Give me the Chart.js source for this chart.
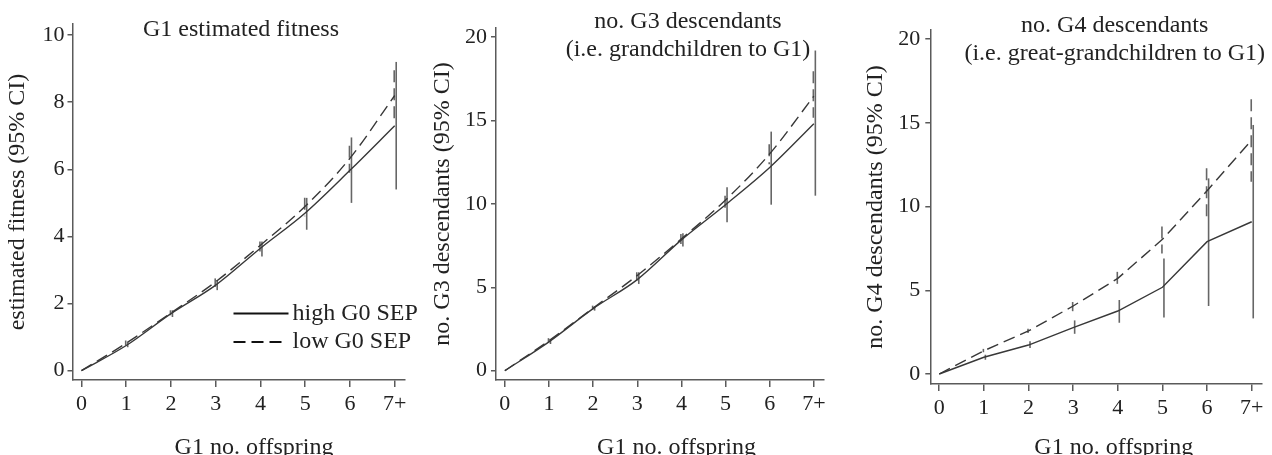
<!DOCTYPE html>
<html>
<head>
<meta charset="utf-8">
<script src="https://cdn.jsdelivr.net/npm/chart.js@4.4.1/dist/chart.umd.min.js"></script>
<style>
  html, body { margin: 0; padding: 0; background: #fff; overflow: hidden; }
  .panel { position: absolute; top: 0; width: 424px; height: 455px; }
</style>
</head>
<body>
<canvas id="p1" class="panel" width="424" height="455" style="left:0"></canvas>
<canvas id="p2" class="panel" width="424" height="455" style="left:424px"></canvas>
<canvas id="p3" class="panel" width="424" height="455" style="left:848px"></canvas>
<script>
// G1 no. offspring (7 = "7+")
const offspring = [0, 1, 2, 3, 4, 5, 6, 7];
const xTickLabels = ['0', '1', '2', '3', '4', '5', '6', '7+'];

// Panel 1: G1 estimated fitness
const fitHigh = [0, 0.75, 1.7, 2.55, 3.65, 4.7, 5.97, 7.3];
const fitHighLo = [0, 0.7, 1.6, 2.4, 3.4, 4.2, 5.0, 5.4];
const fitHighHi = [0, 0.85, 1.8, 2.7, 3.85, 5.15, 6.95, 9.2];
const fitLow = [0, 0.82, 1.72, 2.65, 3.74, 4.9, 6.33, 8.2];
const fitLowLo = [0, 0.75, 1.65, 2.5, 3.55, 4.6, 5.9, 7.5];
const fitLowHi = [0, 0.9, 1.8, 2.75, 3.85, 5.15, 6.7, 8.95];
const fitTicks = [0, 2, 4, 6, 8, 10];

// Panel 2: no. G3 descendants
const g3High = [0, 1.73, 3.72, 5.46, 7.84, 9.95, 12.18, 14.8];
const g3HighLo = [0, 1.6, 3.6, 5.2, 7.44, 8.9, 9.95, 10.49];
const g3HighHi = [0, 1.9, 3.85, 5.9, 8.24, 10.99, 14.33, 19.19];
const g3Low = [0, 1.8, 3.75, 5.71, 7.9, 10.23, 13.0, 16.46];
const g3LowLo = [0, 1.7, 3.65, 5.4, 7.6, 9.59, 12.38, 15.16];
const g3LowHi = [0, 1.95, 3.9, 5.9, 8.2, 10.49, 13.58, 17.95];

// Panel 3: no. G4 descendants
const g4High = [0, 1.0, 1.73, 2.77, 3.76, 5.18, 7.9, 9.09];
const g4HighLo = [0, 0.85, 1.55, 2.4, 3.06, 3.38, 4.06, 3.32];
const g4HighHi = [0, 1.15, 1.95, 3.2, 4.42, 6.9, 11.68, 14.87];
const g4Low = [0, 1.39, 2.57, 4.06, 5.71, 8.04, 10.94, 13.97];
const g4LowLo = [0, 1.3, 2.45, 3.75, 5.2, 7.2, 9.15, 11.48];
const g4LowHi = [0, 1.5, 2.7, 4.3, 6.1, 8.8, 12.28, 16.4];
const descTicks = [0, 5, 10, 15, 20];

const seriesNames = ['high G0 SEP', 'low G0 SEP'];

const FONT = '"Liberation Serif", "Times New Roman", serif';
const TEXT = '#222';
const AXIS = '#5a5a5a';
const LINE = '#383838';
const DASH = [12, 6];

// vertical CI bars drawn through the chart scales
const errorBars = {
    id: 'errorBars',
    beforeDatasetsDraw(chart) {
        const { ctx, scales: { x, y } } = chart;
        chart.data.datasets.forEach(ds => {
            ctx.save();
            ctx.strokeStyle = '#666';
            ctx.lineWidth = 1.6;
            ctx.setLineDash(ds.borderDash || []);
            ds.ciLo.forEach((lo, j) => {
                const hi = ds.ciHi[j];
                if (hi - lo <= 0) return;
                const px = x.getPixelForValue(offspring[j]) + ds.dodge;
                ctx.beginPath();
                ctx.moveTo(px, y.getPixelForValue(hi));
                ctx.lineTo(px, y.getPixelForValue(lo));
                ctx.stroke();
            });
            ctx.restore();
        });
    }
};

// panel title, x axis title and the inset legend
const panelText = {
    id: 'panelText',
    afterDraw(chart, args, opts) {
        const ctx = chart.ctx;
        ctx.save();
        ctx.fillStyle = TEXT;
        ctx.font = '24px ' + FONT;
        ctx.textAlign = 'center';
        ctx.textBaseline = 'alphabetic';
        opts.title.forEach((t, i) => ctx.fillText(t, opts.titleX, opts.titleY + i * 28));
        ctx.fillText('G1 no. offspring', opts.xTitleX, 454);

        if (opts.legend) {
            const L = opts.legend;
            chart.data.datasets.forEach((ds, i) => {
                const yy = L.y + i * 28.5;
                ctx.strokeStyle = '#111';
                ctx.lineWidth = 2.2;
                ctx.setLineDash(ds.borderDash ? DASH : []);
                ctx.beginPath();
                ctx.moveTo(L.x, yy);
                ctx.lineTo(L.x + (ds.borderDash ? 50 : 55), yy);
                ctx.stroke();
                ctx.setLineDash([]);
                ctx.textAlign = 'left';
                ctx.textBaseline = 'middle';
                ctx.fillText(ds.label, L.x + 59, yy);
            });
        }
        ctx.restore();
    }
};

function makePanel(id, p) {
    const toXY = arr => offspring.map((x, i) => ({ x, y: arr[i] }));
    const ctx = document.getElementById(id).getContext('2d');
    return new Chart(ctx, {
        type: 'line',
        data: {
            datasets: [{
                label: seriesNames[0],
                data: toXY(p.high),
                ciLo: p.highLo, ciHi: p.highHi, dodge: 1.5,
                borderColor: LINE, borderWidth: 1.4,
                pointRadius: 0,
                cubicInterpolationMode: p.smooth ? 'monotone' : 'default',
                tension: 0
            }, {
                label: seriesNames[1],
                data: toXY(p.low),
                ciLo: p.lowLo, ciHi: p.lowHi, dodge: -0.5,
                borderColor: LINE, borderWidth: 1.4, borderDash: DASH,
                pointRadius: 0,
                cubicInterpolationMode: p.smooth ? 'monotone' : 'default',
                tension: 0
            }]
        },
        options: {
            responsive: false,
            animation: false,
            devicePixelRatio: 1,
            layout: { padding: { top: p.top, right: p.right, left: 0, bottom: 0 } },
            plugins: {
                legend: { display: false },
                tooltip: { enabled: false },
                panelText: { title: p.title, titleX: p.titleX, titleY: p.titleY, xTitleX: p.xTitleX, legend: p.legend }
            },
            scales: {
                x: {
                    type: 'linear',
                    min: -0.2, max: 7.23,
                    afterBuildTicks: s => { s.ticks = offspring.map(v => ({ value: v })); },
                    afterFit: s => { s.height = p.xAxisH; },
                    ticks: {
                        callback: (v, i) => xTickLabels[i],
                        font: { family: FONT, size: 22 }, color: TEXT,
                        padding: 4, maxRotation: 0, autoSkip: false
                    },
                    grid: { drawOnChartArea: false, tickLength: 7, color: AXIS, lineWidth: 1.5 },
                    border: { color: AXIS, width: 1.5 }
                },
                y: {
                    min: p.yMin, max: p.yMax,
                    afterBuildTicks: s => { s.ticks = p.yTicks.map(v => ({ value: v })); },
                    afterFit: s => { s.width = p.yAxisW; },
                    ticks: { font: { family: FONT, size: 22 }, color: TEXT, padding: p.yTickPad },
                    grid: { drawOnChartArea: false, tickLength: 5, color: AXIS, lineWidth: 1.5 },
                    border: { color: AXIS, width: 1.5 },
                    title: {
                        display: true, text: p.yTitle, color: TEXT,
                        font: { family: FONT, size: 24, lineHeight: 1.2 },
                        padding: { top: p.yTitlePad, bottom: 0 }
                    }
                }
            }
        },
        plugins: [errorBars, panelText]
    });
}

document.addEventListener('DOMContentLoaded', () => {
    makePanel('p1', {
        high: fitHigh, highLo: fitHighLo, highHi: fitHighHi,
        low: fitLow, lowLo: fitLowLo, lowHi: fitLowHi,
        smooth: true, yTicks: fitTicks, yMin: -0.277, yMax: 10.33,
        top: 24, right: 19, xAxisH: 75, yAxisW: 72.5, yTickPad: 3, yTitlePad: 3.6,
        yTitle: 'estimated fitness (95% CI)',
        title: ['G1 estimated fitness'], titleX: 241, titleY: 35.5, xTitleX: 254,
        legend: { x: 233.5, y: 313.5 }
    });
    makePanel('p2', {
        high: g3High, highLo: g3HighLo, highHi: g3HighHi,
        low: g3Low, lowLo: g3LowLo, lowHi: g3LowHi,
        smooth: true, yTicks: descTicks, yMin: -0.557, yMax: 20.54,
        top: 28, right: 24, xAxisH: 75, yAxisW: 72, yTickPad: 4, yTitlePad: 4.4,
        yTitle: 'no. G3 descendants (95% CI)',
        title: ['no. G3 descendants', '(i.e. grandchildren to G1)'], titleX: 264, titleY: 28, xTitleX: 252.5
    });
    makePanel('p3', {
        high: g4High, highLo: g4HighLo, highHi: g4HighHi,
        low: g4Low, lowLo: g4LowLo, lowHi: g4LowHi,
        smooth: false, yTicks: descTicks, yMin: -0.597, yMax: 20.54,
        top: 30, right: 10, xAxisH: 71, yAxisW: 82.3, yTickPad: 5, yTitlePad: 13.6,
        yTitle: 'no. G4 descendants (95% CI)',
        title: ['no. G4 descendants', '(i.e. great-grandchildren to G1)'], titleX: 266.7, titleY: 31.5, xTitleX: 265.8
    });
});
</script>
</body>
</html>
